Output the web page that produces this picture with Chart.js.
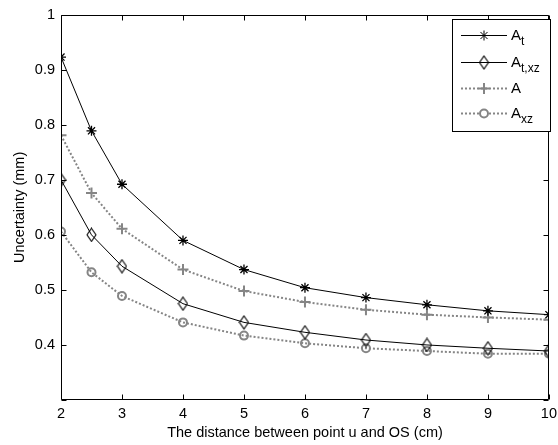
<!DOCTYPE html>
<html><head><meta charset="utf-8">
<script src="https://cdn.jsdelivr.net/npm/chart.js@4/dist/chart.umd.min.js"></script>
<style>
html,body{margin:0;padding:0;background:#fff;overflow:hidden;width:558px;height:445px;}
#wrap{width:562px;height:445px;position:relative;}
canvas{display:block;}
</style></head><body>
<div id="wrap"><canvas id="c" width="562" height="445"></canvas></div>
<script>
const distances = [2, 2.5, 3, 4, 5, 6, 7, 8, 9, 10];
const At   = [0.923, 0.789, 0.692, 0.590, 0.537, 0.504, 0.486, 0.473, 0.462, 0.455];
const Atxz = [0.700, 0.600, 0.543, 0.475, 0.441, 0.423, 0.409, 0.400, 0.394, 0.389];
const A    = [0.781, 0.676, 0.611, 0.537, 0.498, 0.478, 0.464, 0.455, 0.450, 0.446];
const Axz  = [0.606, 0.532, 0.489, 0.441, 0.417, 0.403, 0.394, 0.389, 0.384, 0.384];
const seriesNames = [['A','t'], ['A','t,xz'], ['A',''], ['A','xz']];
const xTicks = [2, 3, 4, 5, 6, 7, 8, 9, 10];
const yTicks = [0.3, 0.4, 0.5, 0.6, 0.7, 0.8, 0.9, 1];
const xTitle = 'The distance between point u and OS (cm)';
const yTitle = 'Uncertainty (mm)';

const FONT = '"Liberation Sans", Arial, sans-serif';
const FS = 14.5;
const BLACK = '#000000';
const GRAY = '#858585';

function makeDiamond() {
  const c = document.createElement('canvas');
  c.width = 11; c.height = 15;
  const g = c.getContext('2d');
  g.strokeStyle = BLACK; g.lineWidth = 1.1;
  g.beginPath();
  g.moveTo(5.5, 1); g.lineTo(10, 7.5); g.lineTo(5.5, 14); g.lineTo(1, 7.5); g.closePath();
  g.stroke();
  return c;
}
const diamond = makeDiamond();

function pts(arr) { return distances.map((x, i) => ({x: x, y: arr[i]})); }

const datasets = [
  {data: pts(At), borderColor: BLACK, borderWidth: 1, pointStyle: 'star', pointRadius: 5, pointBorderWidth: 1.3, pointBorderColor: BLACK, pointBackgroundColor: 'transparent'},
  {data: pts(Atxz), borderColor: BLACK, borderWidth: 1, pointStyle: diamond, pointRadius: 6, pointBorderColor: BLACK, pointBackgroundColor: 'transparent'},
  {data: pts(A), borderColor: GRAY, borderWidth: 2, borderDash: [2, 2], pointStyle: 'cross', pointRadius: 5.5, pointBorderWidth: 2, pointBorderColor: GRAY, pointBackgroundColor: 'transparent'},
  {data: pts(Axz), borderColor: GRAY, borderWidth: 2, borderDash: [2, 2], pointStyle: 'circle', pointRadius: 4, pointBorderWidth: 2, pointBorderColor: GRAY, pointBackgroundColor: 'transparent'}
];
datasets.forEach(d => { d.tension = 0; d.fill = false; d.pointHoverRadius = d.pointRadius; });

const frame = {
  id: 'frame',
  afterDraw(chart) {
    const {ctx, chartArea: a, scales} = chart;
    ctx.save();
    ctx.strokeStyle = BLACK; ctx.lineWidth = 1;
    const L = Math.round(a.left) + 0.5, R = Math.round(a.right) - 0.5, T = Math.round(a.top) + 0.5, B = Math.round(a.bottom) - 0.5;
    ctx.beginPath();
    ctx.rect(L, T, R - L, B - T);
    const tl = 5;
    xTicks.forEach(v => {
      const x = Math.round(scales.x.getPixelForValue(v)) + 0.5;
      ctx.moveTo(x, B); ctx.lineTo(x, B - tl);
      ctx.moveTo(x, T); ctx.lineTo(x, T + tl);
    });
    yTicks.forEach(v => {
      const y = Math.round(scales.y.getPixelForValue(v)) + 0.5;
      ctx.moveTo(L, y); ctx.lineTo(L + tl, y);
      ctx.moveTo(R, y); ctx.lineTo(R - tl, y);
    });
    ctx.stroke();

    // legend
    const bx = 452.5, by = 19.5, bw = 98, bh = 112;
    ctx.fillStyle = '#fff';
    ctx.fillRect(bx, by, bw, bh);
    ctx.strokeRect(bx, by, bw, bh);
    const rowY = [35, 62, 88, 113];
    chart.data.datasets.forEach((ds, i) => {
      const y = rowY[i];
      ctx.save();
      ctx.strokeStyle = ds.borderColor; ctx.lineWidth = ds.borderWidth;
      ctx.setLineDash(ds.borderDash || []);
      ctx.beginPath(); ctx.moveTo(461, y + 0.5); ctx.lineTo(507, y + 0.5); ctx.stroke();
      ctx.setLineDash([]);
      ctx.fillStyle = '#fff';
      ctx.strokeStyle = ds.pointBorderColor;
      Chart.helpers.drawPoint(ctx, {pointStyle: ds.pointStyle, radius: ds.pointRadius, rotation: 0, borderWidth: ds.pointBorderWidth || 1}, 484, y + 0.5);
      ctx.restore();
      ctx.fillStyle = BLACK;
      ctx.textBaseline = 'alphabetic'; ctx.textAlign = 'left';
      ctx.font = '15px ' + FONT;
      ctx.fillText(seriesNames[i][0], 511, y + 5);
      const w = ctx.measureText(seriesNames[i][0]).width;
      if (seriesNames[i][1]) {
        ctx.font = '12px ' + FONT;
        ctx.fillText(seriesNames[i][1], 511 + w, y + 10);
      }
    });
    ctx.restore();
  }
};

new Chart(document.getElementById('c'), {
  type: 'line',
  data: {datasets: datasets},
  options: {
    responsive: false,
    animation: false,
    devicePixelRatio: 1,
    layout: {padding: {top: 10, left: 0, right: 0, bottom: 0}},
    plugins: {legend: {display: false}, tooltip: {enabled: false}},
    scales: {
      x: {
        type: 'linear', min: 2, max: 10,
        afterBuildTicks: s => { s.ticks = xTicks.map(v => ({value: v})); },
        afterFit: s => { s.height = 45; },
        grid: {display: false, drawTicks: false},
        border: {display: false},
        ticks: {color: BLACK, font: {family: FONT, size: FS}, padding: 5, maxRotation: 0, autoSkip: false, callback: v => String(v)},
        title: {display: true, text: xTitle, color: BLACK, font: {family: FONT, size: FS}, padding: {top: 0, bottom: 3}}
      },
      y: {
        type: 'linear', min: 0.3, max: 1,
        afterBuildTicks: s => { s.ticks = yTicks.map(v => ({value: v})); },
        afterFit: s => { s.width = 61; },
        grid: {display: false, drawTicks: false},
        border: {display: false},
        ticks: {color: BLACK, font: {family: FONT, size: FS}, padding: 6, autoSkip: false,
          callback: v => (Math.abs(v - 0.3) < 1e-6 ? '' : String(+v.toFixed(1)))},
        title: {display: true, text: yTitle, color: BLACK, font: {family: FONT, size: FS}, padding: {top: 11, bottom: 0}}
      }
    }
  },
  plugins: [frame]
});
</script>
</body></html>
